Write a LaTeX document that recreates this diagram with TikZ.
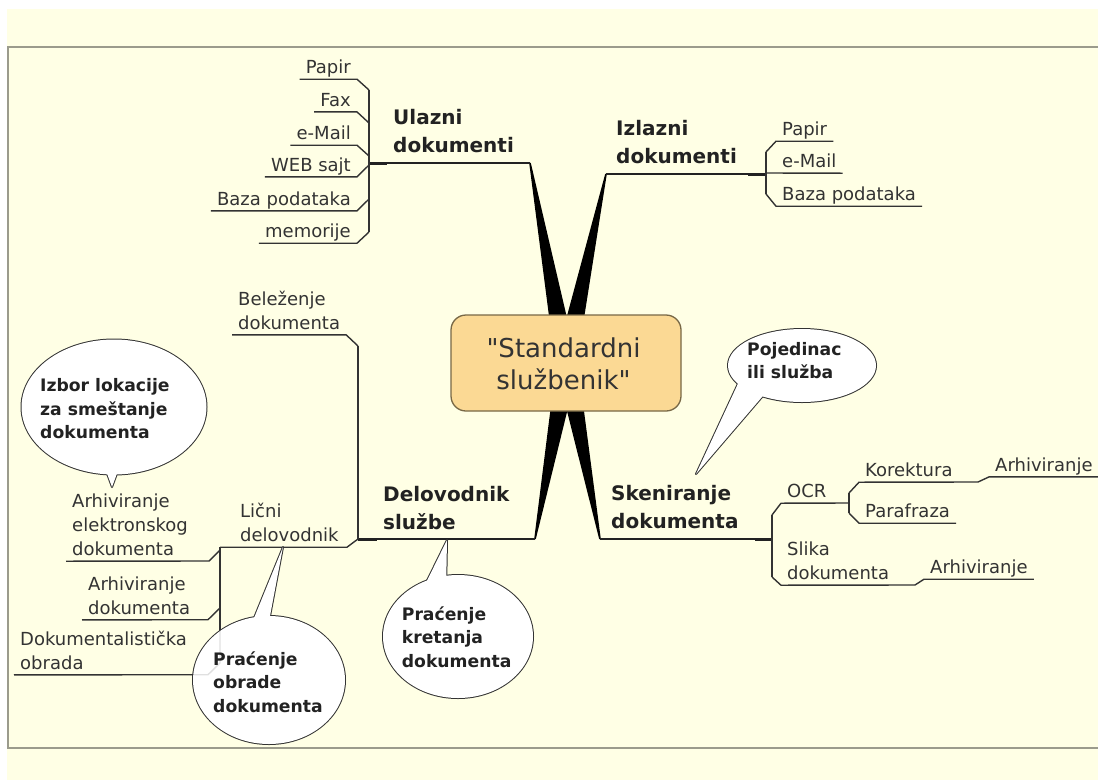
\documentclass[tikz,border=0pt]{standalone}
\usepackage{fontspec}
\setmainfont{DejaVu Sans}[Ligatures=TeXOff]
\usetikzlibrary{calc}
\definecolor{cream}{RGB}{255,255,229}
\definecolor{framegrey}{RGB}{155,155,140}
\definecolor{hubfill}{RGB}{251,217,148}
\definecolor{hubdraw}{RGB}{120,104,70}
\definecolor{ink}{RGB}{34,34,34}
\definecolor{txtgrey}{RGB}{51,51,51}
\newcommand\txtlines[2]{\begin{tabular}[t]{@{}#1@{}}#2\end{tabular}}
\begin{document}
\begin{tikzpicture}[x=1pt,y=-1pt,
  leaf/.style={inner xsep=6pt, inner ysep=-1.5pt, text=txtgrey, font=\fontsize{18}{24}\selectfont},
  branch/.style={inner sep=0pt, text=ink, font=\bfseries\fontsize{20}{28}\selectfont},
  bubtext/.style={inner sep=0pt, text=ink, font=\bfseries\fontsize{17.2}{23.5}\selectfont},
  mainline/.style={draw=ink, line width=1.6pt},
  thickstub/.style={draw=ink, line width=3pt},
  subline/.style={draw=txtgrey, line width=1.4pt, line join=round},
  wedge/.style={fill=black},
  bubline/.style={draw=txtgrey, line width=2pt, fill=white, line join=round},
  bubfill/.style={fill=white},
  hubbox/.style={draw=hubdraw, line width=1.3pt, fill=hubfill, rounded corners=15pt, minimum width=230pt, minimum height=96pt},
  hubtext/.style={inner sep=0pt, text=txtgrey, font=\fontsize{26}{32}\selectfont}
]
\useasboundingbox (0,0) rectangle (1098,780);
\fill[white] (0,0) rectangle (1098,780);
\fill[cream] (7,9) rectangle (1098,780);
\draw[framegrey, line width=2pt] (1098,46.5) -- (8,46.5) -- (8,748) -- (1098,748);

% wedges
\coordinate (hubT) at (566,362);
\coordinate (hubB) at (567,366);
\coordinate (tlEnd) at (530,163);
\coordinate (trEnd) at (606,174);
\coordinate (blEnd) at (535,539);
\coordinate (brEnd) at (600,539);
\foreach \e/\c in {tlEnd/hubT, trEnd/hubT, blEnd/hubB, brEnd/hubB}{
  \fill[wedge] ($(\e)!0.8pt!90:(\c)$) -- ($(\c)!11pt!-90:(\e)$) -- ($(\c)!11pt!90:(\e)$) -- ($(\e)!0.8pt!-90:(\c)$) -- cycle;
}
\node[hubbox] (hub) at (566,363) {};
\node[hubtext, anchor=base] (hubtxt) at (563.5,357.3) {\txtlines{c}{"Standardni\\službenik"}};

% top-left branch
\node[branch, anchor=base west] (ulazni) at (393,124.3) {\txtlines{l}{Ulazni\\dokumenti}};
\draw[mainline] (369,163) -- (tlEnd);
\draw[thickstub] (369,163) -- (387,163);
\draw[subline] (369,90) -- (369,232);
\node[leaf, anchor=base east] (tlpapir) at (357,73.3) {\txtlines{r}{Papir}};
\draw[subline] (369,90) -- (tlpapir.south east) -- (tlpapir.south west);
\node[leaf, anchor=base east] (tlfax) at (357,106) {\txtlines{r}{Fax}};
\draw[subline] (369,123) -- (tlfax.south east) -- (tlfax.south west);
\node[leaf, anchor=base east] (tlemail) at (357,139.3) {\txtlines{r}{e-Mail}};
\draw[subline] (369,156) -- (tlemail.south east) -- (tlemail.south west);
\node[leaf, anchor=base east] (tlweb) at (357,171) {\txtlines{r}{WEB sajt}};
\draw[subline] (369,165) -- (tlweb.south east) -- (tlweb.south west);
\node[leaf, anchor=base east] (tlbaza) at (357,205) {\txtlines{r}{Baza podataka}};
\draw[subline] (369,199) -- (tlbaza.south east) -- (tlbaza.south west);
\node[leaf, anchor=base east] (tlmem) at (357,237.3) {\txtlines{r}{memorije}};
\draw[subline] (369,232) -- (tlmem.south east) -- (tlmem.south west);

% top-right branch
\node[branch, anchor=base west] (izlazni) at (616,135) {\txtlines{l}{Izlazni\\dokumenti}};
\draw[mainline] (trEnd) -- (766,174);
\draw[thickstub] (748,174) -- (766,174);
\draw[subline] (766,152) -- (766,194);
\node[leaf, anchor=base west] (trpapir) at (776,135.3) {\txtlines{l}{Papir}};
\draw[subline] (766,152) -- (trpapir.south west) -- (trpapir.south east);
\node[leaf, anchor=base west] (tremail) at (776,167.3) {\txtlines{l}{e-Mail}};
\draw[subline] (766,173) -- (tremail.south east);
\node[leaf, anchor=base west] (trbaza) at (776,200.3) {\txtlines{l}{Baza podataka}};
\draw[subline] (766,194) -- (trbaza.south west) -- (trbaza.south east);

% bottom-left branch
\node[branch, anchor=base west] (delov) at (383,501) {\txtlines{l}{Delovodnik\\službe}};
\draw[mainline] (358,539) -- (blEnd);
\draw[thickstub] (358,539) -- (377,539);
\draw[subline] (358,539) -- (358,346);
\node[leaf, anchor=base west] (belez) at (232,305) {\txtlines{l}{Beleženje\\dokumenta}};
\draw[subline] (358,346) -- (belez.south east) -- (belez.south west);
\node[leaf, anchor=base west] (licni) at (234,517.5) {\txtlines{l}{Lični\\delovodnik}};
\draw[subline] (358,539) -- (347,547.2) -- (220,547.2);
\draw[subline] (220,547.2) -- (220,663);
\node[leaf, anchor=base west] (arhel) at (66,507.3) {\txtlines{l}{Arhiviranje\\elektronskog\\dokumenta}};
\draw[subline] (220,550) -- (209,561) -- (arhel.south west);
\node[leaf, anchor=base west] (arhdok) at (82,590) {\txtlines{l}{Arhiviranje\\dokumenta}};
\draw[subline] (220,608) -- (208,619.7) -- (arhdok.south west);
\node[leaf, anchor=base west] (dokobr) at (14,645) {\txtlines{l}{Dokumentalistička\\obrada}};
\draw[subline] (220,663) -- (208,674.7) -- (dokobr.south west);

% bottom-right branch
\node[branch, anchor=base west] (sken) at (611,500.7) {\txtlines{l}{Skeniranje\\dokumenta}};
\draw[mainline] (brEnd) -- (772,539);
\draw[thickstub] (755,539) -- (772,539);
\draw[subline] (772,515) -- (772,577);
\node[leaf, anchor=base west] (ocr) at (781,497.3) {\txtlines{l}{OCR}};
\draw[subline] (772,515) -- (ocr.south west) -- (849,503);
\draw[subline] (849,493) -- (849,513);
\node[leaf, anchor=base west] (korek) at (859,476.3) {\txtlines{l}{Korektura}};
\draw[subline] (849,493) -- (korek.south west) -- (978,482);
\node[leaf, anchor=base west] (arhocr) at (989,471) {\txtlines{l}{Arhiviranje}};
\draw[subline] (978,482) -- (arhocr.south west) -- (arhocr.south east);
\node[leaf, anchor=base west] (paraf) at (859,517.3) {\txtlines{l}{Parafraza}};
\draw[subline] (849,513) -- (paraf.south west) -- (paraf.south east);
\node[leaf, anchor=base west] (slika) at (781,555.3) {\txtlines{l}{Slika\\dokumenta}};
\draw[subline] (772,577) -- (slika.south west) -- (915,585);
\node[leaf, anchor=base west] (arhsl) at (924,573.3) {\txtlines{l}{Arhiviranje}};
\draw[subline] (915,585) -- (arhsl.south west) -- (arhsl.south east);

% callout bubbles
\coordinate (izc) at (114,407);
\filldraw[bubline] (izc) ellipse [x radius=92.5pt, y radius=67.5pt];
\filldraw[bubline] (105,468) -- (112,487) -- (119,468) -- cycle;
\fill[bubfill] (izc) ellipse [x radius=92.5pt, y radius=67.5pt];
\fill[bubfill] (105,468) -- (112,487) -- (119,468) -- cycle;

\coordinate (obc) at (269,680);
\filldraw[bubline] (obc) ellipse [x radius=76pt, y radius=64pt];
\filldraw[bubline] (243,645) -- (283,547) -- (267,632) -- cycle;
\fill[bubfill] (obc) ellipse [x radius=76pt, y radius=64pt];
\fill[bubfill] (243,645) -- (283,547) -- (267,632) -- cycle;
\draw[subline, draw opacity=0.15] (220,600) -- (220,663) -- (208,674.7) -- (190,674.7);

\coordinate (krc) at (458,636.5);
\filldraw[bubline] (krc) ellipse [x radius=75pt, y radius=61.5pt];
\filldraw[bubline] (419,597) -- (447,540) -- (446,592) -- cycle;
\fill[bubfill] (krc) ellipse [x radius=75pt, y radius=61.5pt];
\fill[bubfill] (419,597) -- (447,540) -- (446,592) -- cycle;

\coordinate (poc) at (802,365.5);
\filldraw[bubline] (poc) ellipse [x radius=74pt, y radius=36.5pt];
\filldraw[bubline] (742,375) -- (696,474) -- (768,390) -- cycle;
\fill[bubfill] (poc) ellipse [x radius=74pt, y radius=36.5pt];
\fill[bubfill] (742,375) -- (696,474) -- (768,390) -- cycle;

\node[bubtext, anchor=base west] (izbor) at (40,391.7) {\txtlines{l}{Izbor lokacije\\za smeštanje\\dokumenta}};
\node[bubtext, anchor=base west] (obrade) at (213,665) {\txtlines{l}{Praćenje\\obrade\\dokumenta}};
\node[bubtext, anchor=base west] (kret) at (401.7,620) {\txtlines{l}{Praćenje\\kretanja\\dokumenta}};
\node[bubtext, anchor=base west] (pojed) at (747,355) {\txtlines{l}{Pojedinac\\ili služba}};
\end{tikzpicture}
\end{document}
